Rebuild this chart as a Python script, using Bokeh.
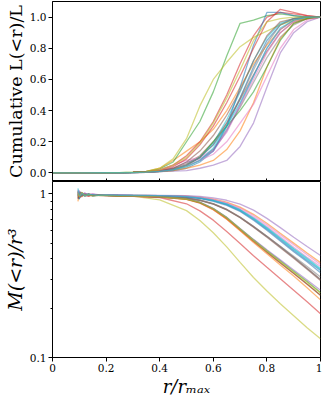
from bokeh.plotting import figure
from bokeh.layouts import column
from bokeh.models import FixedTicker, Range1d
from bokeh.embed import file_html
from bokeh.resources import INLINE

# ---------------- data ----------------
colors = ["#1f77b4", "#ff7f0e", "#2ca02c", "#d62728", "#9467bd",
          "#8c564b", "#e377c2", "#7f7f7f", "#bcbd22", "#17becf"]

# top panel: cumulative light profile L(<r)/L
x_top = [0.0, 0.1, 0.2, 0.25, 0.3, 0.35, 0.4, 0.45, 0.5, 0.55, 0.6, 0.65,
         0.7, 0.75, 0.8, 0.85, 0.9, 0.95, 1.0]
L01 = [0, 0, 0.001, 0.002, 0.003, 0.006, 0.012, 0.025, 0.05, 0.10, 0.18, 0.30, 0.48, 0.68, 0.85, 0.95, 0.99, 1.0, 1.0]
L02 = [0, 0, 0.001, 0.002, 0.004, 0.010, 0.03, 0.08, 0.14, 0.20, 0.28, 0.40, 0.55, 0.70, 0.82, 0.92, 0.98, 0.99, 1.0]
L03 = [0, 0, 0.001, 0.002, 0.005, 0.010, 0.025, 0.07, 0.20, 0.33, 0.52, 0.75, 0.96, 0.98, 1.01, 1.02, 1.01, 1.0, 1.0]
L04 = [0, 0, 0.001, 0.002, 0.003, 0.008, 0.02, 0.05, 0.11, 0.20, 0.33, 0.50, 0.70, 0.88, 1.0, 1.03, 1.02, 1.01, 1.0]
L05 = [0, 0, 0.001, 0.001, 0.002, 0.004, 0.008, 0.012, 0.015, 0.03, 0.05, 0.08, 0.17, 0.32, 0.55, 0.77, 0.90, 0.97, 1.0]
L06 = [0, 0, 0.001, 0.002, 0.003, 0.006, 0.012, 0.03, 0.06, 0.11, 0.20, 0.32, 0.47, 0.63, 0.78, 0.90, 0.97, 0.99, 1.0]
L07 = [0, 0, 0.001, 0.002, 0.003, 0.006, 0.02, 0.05, 0.08, 0.10, 0.15, 0.26, 0.43, 0.60, 0.77, 0.90, 0.97, 0.99, 1.0]
L08 = [0, 0, 0.001, 0.001, 0.002, 0.005, 0.01, 0.02, 0.04, 0.08, 0.15, 0.28, 0.42, 0.58, 0.74, 0.87, 0.95, 0.99, 1.0]
L09 = [0, 0, 0.001, 0.002, 0.005, 0.010, 0.03, 0.09, 0.22, 0.43, 0.60, 0.71, 0.81, 0.87, 0.91, 0.95, 0.98, 0.99, 1.0]
L10 = [0, 0, 0.001, 0.001, 0.002, 0.005, 0.01, 0.02, 0.05, 0.10, 0.19, 0.34, 0.52, 0.72, 0.87, 0.96, 0.99, 1.0, 1.0]
L11 = [0, 0, 0.001, 0.001, 0.002, 0.004, 0.008, 0.015, 0.03, 0.07, 0.14, 0.30, 0.55, 0.82, 1.03, 1.03, 1.01, 1.0, 1.0]
L12 = [0, 0, 0.001, 0.001, 0.002, 0.004, 0.008, 0.015, 0.03, 0.05, 0.08, 0.15, 0.27, 0.45, 0.68, 0.86, 0.96, 0.99, 1.0]
L13 = [0, 0, 0.001, 0.002, 0.003, 0.006, 0.012, 0.025, 0.05, 0.10, 0.20, 0.30, 0.40, 0.52, 0.68, 0.85, 0.96, 0.99, 1.0]
L14 = [0, 0, 0.001, 0.002, 0.003, 0.007, 0.015, 0.04, 0.09, 0.18, 0.30, 0.45, 0.62, 0.80, 0.97, 1.05, 1.03, 1.01, 1.0]
L15 = [0, 0, 0.001, 0.002, 0.003, 0.005, 0.01, 0.03, 0.07, 0.09, 0.14, 0.27, 0.44, 0.62, 0.80, 0.92, 0.98, 1.0, 1.0]
L16 = [0, 0, 0.001, 0.002, 0.003, 0.006, 0.012, 0.03, 0.07, 0.14, 0.24, 0.37, 0.53, 0.72, 0.88, 0.97, 0.99, 1.0, 1.0]
L17 = [0, 0, 0.001, 0.001, 0.002, 0.004, 0.01, 0.02, 0.05, 0.08, 0.12, 0.20, 0.32, 0.44, 0.62, 0.80, 0.92, 0.98, 1.0]
L18 = [0, 0, 0.001, 0.001, 0.002, 0.005, 0.01, 0.02, 0.05, 0.10, 0.18, 0.32, 0.48, 0.66, 0.83, 0.95, 0.99, 1.0, 1.0]
L19 = [0, 0, 0.001, 0.002, 0.003, 0.007, 0.02, 0.05, 0.10, 0.19, 0.32, 0.48, 0.66, 0.85, 0.97, 0.99, 1.0, 1.0, 1.0]
L20 = [0, 0, 0.001, 0.001, 0.002, 0.005, 0.01, 0.02, 0.04, 0.08, 0.16, 0.30, 0.45, 0.62, 0.80, 0.93, 0.98, 1.0, 1.0]
top_curves = [L01, L02, L03, L04, L05, L06, L07, L08, L09, L10,
              L11, L12, L13, L14, L15, L16, L17, L18, L19, L20]

# bottom panel: M(<r)/r^3
x_bot = [0.095, 0.1, 0.105, 0.11, 0.12, 0.135, 0.15, 0.17, 0.2, 0.25, 0.3,
         0.4, 0.5, 0.55, 0.6, 0.65, 0.7, 0.75, 0.8, 0.85, 0.9, 0.95, 1.0]
M01 = [1.05, 0.96, 1.01, 0.97, 1.00, 0.98, 0.99, 0.985, 0.99, 0.985, 0.98, 0.975, 0.96, 0.941, 0.908, 0.860, 0.790, 0.700, 0.609, 0.524, 0.451, 0.392, 0.340]
M02 = [0.90, 1.03, 0.97, 1.00, 0.98, 1.00, 0.98, 0.99, 0.985, 0.98, 0.98, 0.975, 0.97, 0.956, 0.930, 0.889, 0.829, 0.750, 0.662, 0.575, 0.500, 0.435, 0.380]
M03 = [0.98, 0.93, 1.02, 0.99, 0.97, 1.00, 0.98, 0.98, 0.985, 0.975, 0.975, 0.96, 0.93, 0.884, 0.808, 0.710, 0.605, 0.515, 0.441, 0.380, 0.327, 0.281, 0.240]
M04 = [1.03, 0.99, 0.95, 1.01, 0.99, 0.97, 0.99, 0.98, 0.98, 0.975, 0.97, 0.955, 0.925, 0.878, 0.800, 0.703, 0.600, 0.512, 0.439, 0.378, 0.326, 0.280, 0.240]
M05 = [1.02, 0.94, 1.00, 0.98, 1.01, 0.99, 1.00, 0.99, 0.99, 0.99, 0.985, 0.98, 0.975, 0.966, 0.946, 0.914, 0.865, 0.795, 0.708, 0.622, 0.543, 0.477, 0.420]
M06 = [0.93, 1.00, 1.03, 0.97, 0.99, 0.98, 0.99, 0.98, 0.98, 0.975, 0.97, 0.965, 0.945, 0.917, 0.872, 0.805, 0.721, 0.633, 0.550, 0.476, 0.410, 0.351, 0.300]
M07 = [0.97, 1.04, 0.96, 0.99, 1.00, 0.98, 0.985, 0.99, 0.98, 0.98, 0.975, 0.97, 0.96, 0.947, 0.918, 0.872, 0.806, 0.722, 0.632, 0.547, 0.472, 0.410, 0.360]
M08 = [1.01, 0.97, 0.99, 1.02, 0.98, 0.99, 0.97, 0.985, 0.98, 0.975, 0.97, 0.962, 0.94, 0.911, 0.866, 0.800, 0.717, 0.630, 0.550, 0.478, 0.415, 0.360, 0.310]
M09 = [1.00, 0.95, 1.01, 0.98, 0.99, 0.98, 0.99, 0.98, 0.98, 0.975, 0.97, 0.92, 0.79, 0.687, 0.579, 0.474, 0.381, 0.308, 0.255, 0.213, 0.180, 0.152, 0.130]
M10 = [0.95, 1.02, 0.98, 1.00, 0.97, 0.99, 0.98, 0.99, 0.985, 0.98, 0.98, 0.975, 0.962, 0.944, 0.912, 0.865, 0.795, 0.707, 0.616, 0.531, 0.458, 0.398, 0.345]
M11 = [1.00, 0.93, 1.02, 0.98, 0.99, 1.00, 0.97, 0.98, 0.98, 0.975, 0.975, 0.97, 0.955, 0.935, 0.900, 0.850, 0.780, 0.690, 0.600, 0.516, 0.443, 0.385, 0.330]
M12 = [0.96, 1.01, 0.99, 0.96, 1.00, 0.98, 0.985, 0.975, 0.98, 0.97, 0.97, 0.955, 0.925, 0.880, 0.800, 0.700, 0.595, 0.505, 0.430, 0.368, 0.315, 0.267, 0.225]
M13 = [1.04, 0.97, 0.98, 1.00, 0.97, 0.99, 0.98, 0.98, 0.975, 0.97, 0.97, 0.96, 0.932, 0.888, 0.814, 0.718, 0.613, 0.524, 0.450, 0.390, 0.337, 0.291, 0.250]
M14 = [0.94, 1.00, 0.97, 1.01, 0.98, 0.97, 0.985, 0.98, 0.975, 0.97, 0.965, 0.95, 0.87, 0.787, 0.691, 0.589, 0.497, 0.419, 0.356, 0.303, 0.258, 0.219, 0.185]
M15 = [0.99, 1.05, 0.97, 0.99, 1.01, 0.98, 0.99, 0.98, 0.98, 0.975, 0.97, 0.96, 0.935, 0.890, 0.815, 0.720, 0.615, 0.527, 0.455, 0.395, 0.343, 0.298, 0.258]
M16 = [1.02, 0.98, 0.96, 1.00, 0.99, 0.98, 0.98, 0.985, 0.975, 0.975, 0.97, 0.962, 0.942, 0.913, 0.866, 0.798, 0.714, 0.626, 0.543, 0.469, 0.404, 0.346, 0.295]
M17 = [1.06, 0.97, 0.99, 1.01, 0.97, 0.99, 1.00, 0.98, 0.99, 0.98, 0.98, 0.975, 0.965, 0.952, 0.925, 0.882, 0.818, 0.737, 0.648, 0.562, 0.488, 0.424, 0.370]
M18 = [0.97, 1.02, 1.00, 0.97, 0.99, 0.98, 0.99, 0.98, 0.98, 0.975, 0.97, 0.963, 0.943, 0.915, 0.870, 0.803, 0.719, 0.631, 0.548, 0.474, 0.408, 0.350, 0.300]
M19 = [1.01, 0.96, 0.99, 1.02, 0.98, 0.99, 0.97, 0.98, 0.98, 0.97, 0.97, 0.958, 0.93, 0.886, 0.811, 0.714, 0.609, 0.520, 0.447, 0.386, 0.333, 0.288, 0.248]
M20 = [1.08, 0.99, 0.97, 1.01, 0.98, 0.99, 0.99, 0.98, 0.985, 0.98, 0.98, 0.975, 0.963, 0.945, 0.914, 0.868, 0.800, 0.712, 0.622, 0.537, 0.464, 0.404, 0.350]
bot_curves = [M01, M02, M03, M04, M05, M06, M07, M08, M09, M10,
              M11, M12, M13, M14, M15, M16, M17, M18, M19, M20]

x_ticks = [0.0, 0.2, 0.4, 0.6, 0.8, 1.0]
x_tick_labels = ["0", "0.2", "0.4", "0.6", "0.8", "1"]
top_y_ticks = [0.0, 0.2, 0.4, 0.6, 0.8, 1.0]
top_y_tick_labels = ["0.0", "0.2", "0.4", "0.6", "0.8", "1.0"]
bot_y_ticks = [0.1, 1.0]
bot_y_tick_labels = ["0.1", "1"]
bot_y_minor = [0.2, 0.3, 0.4, 0.5, 0.6, 0.7, 0.8, 0.9]

FONT = "DejaVu Serif"
W = 322
LEFT = 46


def style_axes(p):
    p.grid.visible = False
    p.outline_line_color = "black"
    p.outline_line_width = 1
    p.background_fill_color = "white"
    p.border_fill_color = "white"
    for ax in p.axis:
        ax.axis_line_color = "black"
        ax.major_tick_line_color = "black"
        ax.minor_tick_line_color = "black"
        ax.major_label_text_font = FONT
        ax.major_label_text_font_size = "10.5px"
        ax.major_label_text_color = "black"
        ax.axis_label_text_font = FONT
        ax.axis_label_text_color = "black"
        ax.major_tick_in = 0
        ax.major_tick_out = 4
        ax.minor_tick_in = 0
        ax.minor_tick_out = 2
        ax.major_label_standoff = 2


p1 = figure(width=W, height=181, x_range=Range1d(0, 1), y_range=Range1d(-0.055, 1.10),
            toolbar_location=None, output_backend="svg",
            min_border_left=LEFT, min_border_right=2, min_border_top=1, min_border_bottom=0)
style_axes(p1)
for i, ys in enumerate(top_curves):
    p1.line(x_top, ys, line_color=colors[i % 10], line_alpha=0.55, line_width=1.3)
p1.yaxis.ticker = FixedTicker(ticks=top_y_ticks)
p1.yaxis.major_label_overrides = dict(zip(top_y_ticks, top_y_tick_labels))
p1.yaxis.minor_tick_line_color = None
p1.yaxis.axis_label = "Cumulative L(<r)/L"
p1.yaxis.axis_label_text_font_size = "17.5px"
p1.yaxis.axis_label_text_font_style = "normal"
p1.yaxis.axis_label_standoff = 1
# shared-axis ticks on the separator, without labels
p1.xaxis.ticker = FixedTicker(ticks=x_ticks)
p1.xaxis.major_label_text_font_size = "1px"
p1.xaxis.major_label_text_color = None
p1.xaxis.major_label_standoff = 0
p1.xaxis.major_tick_in = 3
p1.xaxis.major_tick_out = 0
p1.xaxis.minor_tick_line_color = None

p2 = figure(width=W, height=218, x_range=p1.x_range, y_range=Range1d(0.1, 1.19),
            y_axis_type="log", toolbar_location=None, output_backend="svg",
            min_border_left=LEFT, min_border_right=2, min_border_top=0, min_border_bottom=0)
style_axes(p2)
for i, ys in enumerate(bot_curves):
    p2.line(x_bot, ys, line_color=colors[i % 10], line_alpha=0.55, line_width=1.3)
p2.yaxis.ticker = FixedTicker(ticks=bot_y_ticks, minor_ticks=bot_y_minor)
p2.yaxis.major_label_overrides = dict(zip(bot_y_ticks, bot_y_tick_labels))
p2.yaxis.axis_label = "M(<r)/r³"
p2.yaxis.axis_label_text_font_size = "19px"
p2.yaxis.axis_label_text_font_style = "italic"
p2.yaxis.axis_label_standoff = 1
p2.xaxis.ticker = FixedTicker(ticks=x_ticks)
p2.xaxis.major_label_overrides = dict(zip(x_ticks, x_tick_labels))
p2.xaxis.minor_tick_line_color = None
p2.xaxis.axis_label = "r/rₘₐₓ"
p2.xaxis.axis_label_text_font_size = "18px"
p2.xaxis.axis_label_text_font_style = "italic"
p2.xaxis.axis_label_standoff = 1

layout = column(p1, p2, spacing=0)
open("out.html", "w").write(file_html(layout, INLINE))
